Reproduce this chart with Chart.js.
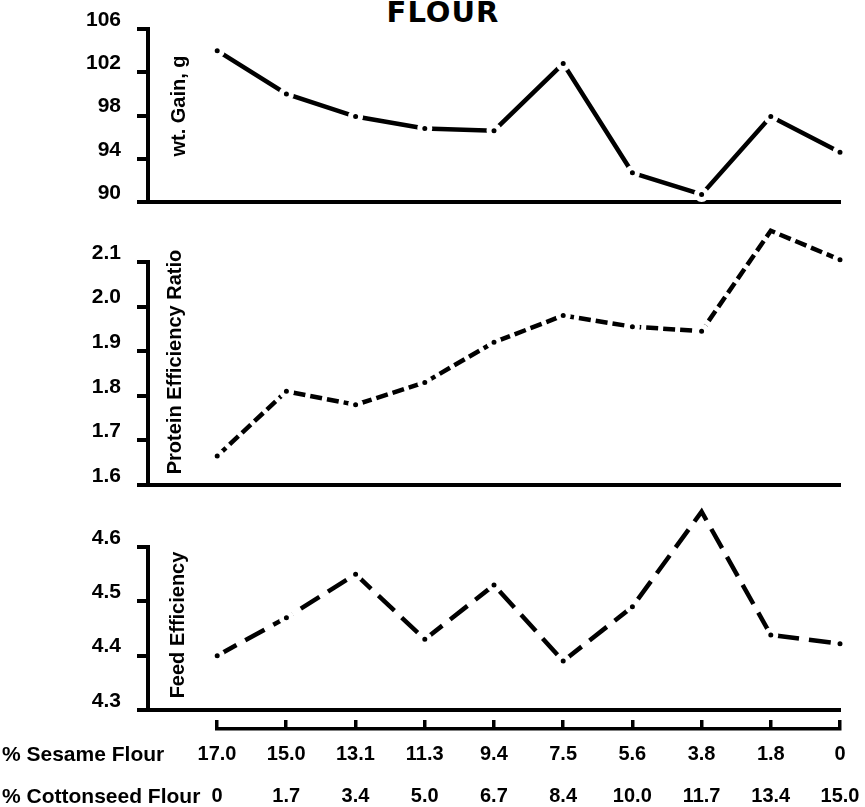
<!DOCTYPE html>
<html>

<head>
  <title>Sesame / cottonseed flour</title>
  <meta charset="utf-8">
  <script src="https://cdn.jsdelivr.net/npm/chart.js"></script>
  <style>
    html, body { margin: 0; padding: 0; background: #fff; overflow: hidden; }
    #page {
      position: relative; width: 865px; height: 807px; overflow: hidden;
      font-family: 'Liberation Sans', Arial, sans-serif;
      font-weight: bold; color: #000;
    }
    canvas { position: absolute; left: 0; }
    .title {
      position: absolute; left: 443px; top: -5px; transform: translateX(-50%);
      font-family: 'DejaVu Sans', sans-serif; font-size: 29px; letter-spacing: 1px;
    }
    .vlabel {
      position: absolute; white-space: nowrap; font-size: 20px;
      transform: translate(-50%, -50%) rotate(-90deg);
    }
    .row { position: absolute; left: 2px; white-space: nowrap; font-size: 21px; transform: translateY(-50%); }
  </style>
</head>

<body>
  <div id="page">
    <div class="title">FLOUR</div>

    <canvas id="gainChart" width="865" height="218" style="top: 0px"></canvas>
    <canvas id="perChart" width="865" height="286" style="top: 215px"></canvas>
    <canvas id="feedChart" width="865" height="231" style="top: 495px"></canvas>
    <canvas id="flourAxis" width="865" height="105" style="top: 700px"></canvas>

    <div class="vlabel" style="left: 178px; top: 106px">wt. Gain, g</div>
    <div class="vlabel" style="left: 174px; top: 362px">Protein Efficiency Ratio</div>
    <div class="vlabel" style="left: 177px; top: 625px">Feed Efficiency</div>

    <div class="row" style="top: 754px">% Sesame Flour</div>
    <div class="row" style="top: 796px">% Cottonseed Flour</div>
  </div>

  <script>
    // diet composition, one entry per diet
    const sesameFlour = ['17.0', '15.0', '13.1', '11.3', '9.4', '7.5', '5.6', '3.8', '1.8', '0'];
    const cottonseedFlour = ['0', '1.7', '3.4', '5.0', '6.7', '8.4', '10.0', '11.7', '13.4', '15.0'];

    // results per diet
    const weightGain = [104.0, 100.0, 97.9, 96.8, 96.6, 102.8, 92.7, 90.7, 97.9, 94.6];
    const proteinEfficiency = [1.665, 1.81, 1.78, 1.83, 1.92, 1.98, 1.955, 1.945, 2.17, 2.105];
    const feedEfficiency = [4.40, 4.47, 4.55, 4.43, 4.53, 4.39, 4.49, 4.665, 4.438, 4.422];

    Chart.defaults.font.family = "'Liberation Sans', Arial, sans-serif";
    Chart.defaults.font.weight = 'bold';
    Chart.defaults.color = '#000';

    // keep the plot area exactly where the padding puts it
    function noScalePadding(s) {
      s.paddingTop = s.paddingBottom = s.paddingLeft = s.paddingRight = 0;
    }

    function panel(id, values, yMin, yMax, step, decimals, dash, padTop) {
      return new Chart(document.getElementById(id), {
        type: 'line',
        data: {
          datasets: [{
            data: values.map((v, i) => ({ x: i, y: v })),
            borderColor: '#000',
            borderWidth: 4.5,
            borderDash: dash,
            pointRadius: 5,
            pointBorderWidth: 5,
            pointBackgroundColor: '#000',
            pointBorderColor: '#fff',
            clip: false,
            tension: 0
          }]
        },
        options: {
          responsive: false,
          animation: false,
          events: [],
          layout: { autoPadding: false, padding: { top: padTop, bottom: 16, left: 0, right: 25 } },
          plugins: { legend: { display: false }, tooltip: { enabled: false } },
          scales: {
            x: {
              type: 'linear', min: -1, max: 9, z: 1,
              ticks: { display: false },
              grid: { drawOnChartArea: false, drawTicks: false },
              border: { color: '#000', width: 4 },
              afterFit: s => { s.height = 0; noScalePadding(s); }
            },
            y: {
              min: yMin, max: yMax,
              ticks: {
                stepSize: step, padding: 16, labelOffset: -9,
                font: { size: 21 },
                callback: v => v.toFixed(decimals)
              },
              grid: { drawOnChartArea: false, tickLength: 11, color: '#000', lineWidth: 4 },
              border: { color: '#000', width: 4 },
              afterFit: s => { s.width = 148; noScalePadding(s); }
            }
          }
        }
      });
    }

    panel('gainChart', weightGain, 90, 106, 4, 0, [], 29);
    panel('perChart', proteinEfficiency, 1.6, 2.1, 0.1, 1, [12, 5], 47);
    panel('feedChart', feedEfficiency, 4.3, 4.6, 0.1, 1, [22, 10], 52);

    // shared diet axis under the three panels: sesame row on the bracket, cottonseed row below
    new Chart(document.getElementById('flourAxis'), {
      type: 'line',
      data: { labels: sesameFlour, datasets: [] },
      options: {
        responsive: false,
        animation: false,
        events: [],
        layout: { autoPadding: false, padding: { top: 20, bottom: 0, left: 217, right: 25 } },
        plugins: { legend: { display: false }, tooltip: { enabled: false } },
        scales: {
          x: {
            type: 'category', offset: false, weight: 0,
            grid: { color: '#000', lineWidth: 3.5, drawTicks: false },
            border: { color: '#000', width: 3.5 },
            ticks: { padding: 15, maxRotation: 0, autoSkip: false, font: { size: 20, lineHeight: 1 } },
            afterFit: s => { s.height = 35; noScalePadding(s); }
          },
          x2: {
            type: 'category', axis: 'x', position: 'bottom', offset: false, weight: 1,
            labels: cottonseedFlour,
            grid: { display: false, drawTicks: false },
            border: { display: false },
            ticks: { padding: 22, maxRotation: 0, autoSkip: false, font: { size: 20, lineHeight: 1 } },
            afterFit: s => { s.height = 41; noScalePadding(s); }
          },
          y: { display: false }
        }
      }
    });
  </script>
</body>

</html>
